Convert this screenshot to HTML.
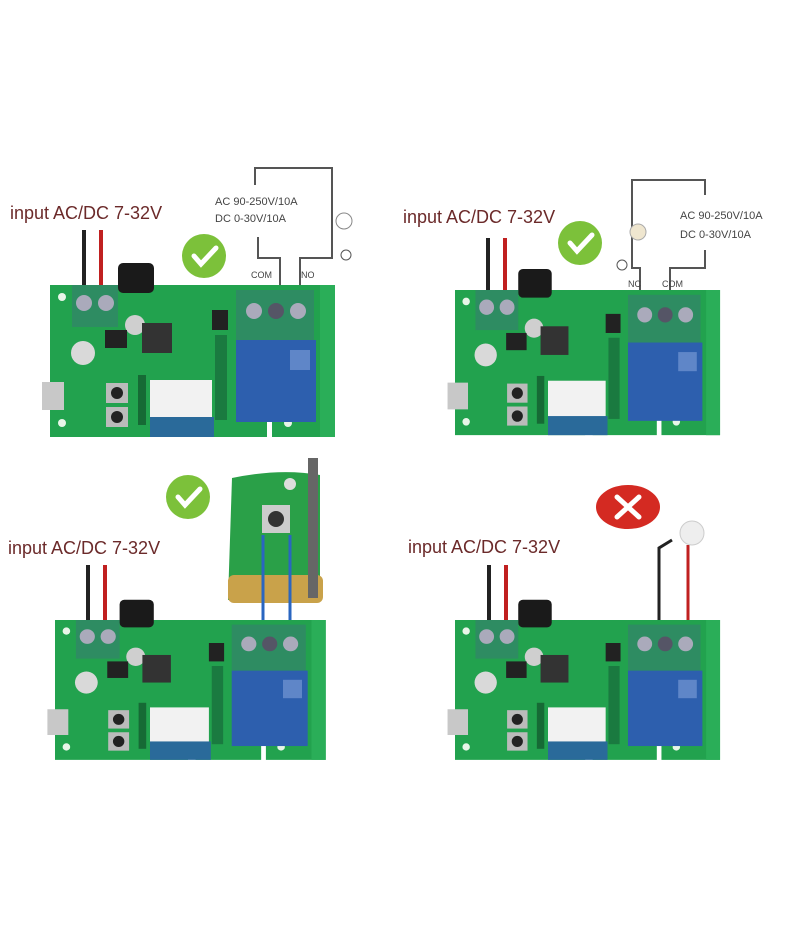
<!DOCTYPE html>
<html><head><meta charset="utf-8"><style>
html,body{margin:0;padding:0;background:#fff;}
svg{display:block}
text{font-family:"Liberation Sans",sans-serif}
</style></head><body>
<svg width="800" height="930" viewBox="0 0 800 930" xmlns="http://www.w3.org/2000/svg">
<defs>
<g id="board">
  <path d="M0 0 H285 V152 H222 V132 H217 V152 H148 V132 H140 V152 H0 Z" fill="#22a24e"/>
  <rect x="270" y="0" width="15" height="152" fill="#2aae58"/>
  <circle cx="12" cy="12" r="4" fill="#e8f5e8"/>
  <circle cx="12" cy="138" r="4" fill="#e8f5e8"/>
  <circle cx="238" cy="138" r="4" fill="#e8f5e8"/>
  <rect x="68" y="-22" width="36" height="30" rx="5" fill="#1a1a1a"/>
  <rect x="22" y="0" width="46" height="42" fill="#2e8c62"/>
  <circle cx="34" cy="18" r="8" fill="#aab"/><circle cx="56" cy="18" r="8" fill="#aab"/>
  <circle cx="85" cy="40" r="10" fill="#cfcfcf"/>
  <circle cx="33" cy="68" r="12" fill="#d9d9d9"/>
  <rect x="92" y="38" width="30" height="30" fill="#333"/>
  <rect x="55" y="45" width="22" height="18" fill="#222"/>
  <rect x="162" y="25" width="16" height="20" fill="#222"/>
  <rect x="186" y="5" width="78" height="50" fill="#2e8c62"/>
  <circle cx="204" cy="26" r="8" fill="#aab"/><circle cx="226" cy="26" r="8" fill="#556"/><circle cx="248" cy="26" r="8" fill="#aab"/>
  <rect x="186" y="55" width="80" height="82" fill="#2d5fae"/>
  <rect x="240" y="65" width="20" height="20" fill="#5f86c8"/>
  <rect x="100" y="95" width="62" height="45" fill="#f2f2f2"/>
  <rect x="100" y="132" width="64" height="20" fill="#2a6a9a"/>
  <rect x="-8" y="97" width="22" height="28" fill="#c8c8c8"/>
  <rect x="56" y="98" width="22" height="20" fill="#bbb"/><circle cx="67" cy="108" r="6" fill="#222"/>
  <rect x="56" y="122" width="22" height="20" fill="#bbb"/><circle cx="67" cy="132" r="6" fill="#222"/>
  <rect x="88" y="90" width="8" height="50" fill="#166a35"/>
  <rect x="165" y="50" width="12" height="85" fill="#1a7a40"/>
</g>
<g id="check">
  <circle r="22" fill="#7cc13a"/>
  <path d="M-10 0 L-3 8 L12 -8" stroke="#fff" stroke-width="5" fill="none" stroke-linecap="round"/>
</g>
</defs>
<rect width="800" height="930" fill="#fff"/>

<text x="10" y="219" font-size="18" fill="#6b2a2a">input AC/DC 7-32V</text>
<line x1="84" y1="230" x2="84" y2="290" stroke="#222" stroke-width="4"/>
<line x1="101" y1="230" x2="101" y2="290" stroke="#c02020" stroke-width="4"/>
<use href="#check" x="204" y="256"/>
<g stroke="#555" stroke-width="2" fill="none">
<path d="M280 285 V258 H258 V237"/><path d="M300 285 V258 H332 V168 H255 V185"/>
</g>
<circle cx="344" cy="221" r="8" fill="#fff" stroke="#888"/>
<circle cx="346" cy="255" r="5" fill="none" stroke="#555"/>
<text x="215" y="205" font-size="11" fill="#444">AC 90-250V/10A</text>
<text x="215" y="222" font-size="11" fill="#444">DC 0-30V/10A</text>
<text x="251" y="278" font-size="9" fill="#444">COM</text>
<text x="301" y="278" font-size="9" fill="#444">NO</text>
<use href="#board" transform="translate(50,285)"/>

<text x="403" y="223" font-size="18" fill="#6b2a2a">input AC/DC 7-32V</text>
<line x1="488" y1="238" x2="488" y2="295" stroke="#222" stroke-width="4"/>
<line x1="505" y1="238" x2="505" y2="295" stroke="#c02020" stroke-width="4"/>
<use href="#check" x="580" y="243"/>
<g stroke="#555" stroke-width="2" fill="none">
<path d="M640 290 V268 H632 V180 H705 V195"/><path d="M670 290 V268 H705 V250"/>
</g>
<circle cx="638" cy="232" r="8" fill="#efe6cf" stroke="#aaa"/>
<circle cx="622" cy="265" r="5" fill="none" stroke="#555"/>
<text x="680" y="219" font-size="11" fill="#444">AC 90-250V/10A</text>
<text x="680" y="238" font-size="11" fill="#444">DC 0-30V/10A</text>
<text x="628" y="287" font-size="9" fill="#444">NC</text>
<text x="662" y="287" font-size="9" fill="#444">COM</text>
<use href="#board" transform="translate(455,290) scale(0.93,0.955)"/>

<text x="8" y="554" font-size="18" fill="#6b2a2a">input AC/DC 7-32V</text>
<line x1="88" y1="565" x2="88" y2="622" stroke="#222" stroke-width="4"/>
<line x1="105" y1="565" x2="105" y2="622" stroke="#c02020" stroke-width="4"/>
<use href="#check" x="188" y="497"/>
<g>
<path d="M232 478 Q280 468 320 475 L320 600 H228 Z" fill="#2aa048"/>
<rect x="228" y="575" width="95" height="28" rx="6" fill="#c9a24a"/>
<rect x="308" y="458" width="10" height="140" fill="#666"/>
<rect x="262" y="505" width="28" height="28" fill="#ccc"/><circle cx="276" cy="519" r="8" fill="#333"/>
<circle cx="290" cy="484" r="6" fill="#ddd"/>
<line x1="263" y1="535" x2="263" y2="625" stroke="#2a66c0" stroke-width="3"/>
<line x1="290" y1="535" x2="290" y2="625" stroke="#2a66c0" stroke-width="3"/>
</g>
<use href="#board" transform="translate(55,620) scale(0.95,0.92)"/>

<text x="408" y="553" font-size="18" fill="#6b2a2a">input AC/DC 7-32V</text>
<line x1="489" y1="565" x2="489" y2="622" stroke="#222" stroke-width="4"/>
<line x1="506" y1="565" x2="506" y2="622" stroke="#c02020" stroke-width="4"/>
<ellipse cx="628" cy="507" rx="32" ry="22" fill="#d42a22"/>
<path d="M617 497 L639 517 M639 497 L617 517" stroke="#fff" stroke-width="5" stroke-linecap="round"/>
<path d="M659 625 V548 L672 540" stroke="#222" stroke-width="3" fill="none"/>
<line x1="688" y1="545" x2="688" y2="625" stroke="#c02020" stroke-width="3"/>
<circle cx="692" cy="533" r="12" fill="#eee" stroke="#ccc"/>
<use href="#board" transform="translate(455,620) scale(0.93,0.92)"/>
</svg>
</body></html>
